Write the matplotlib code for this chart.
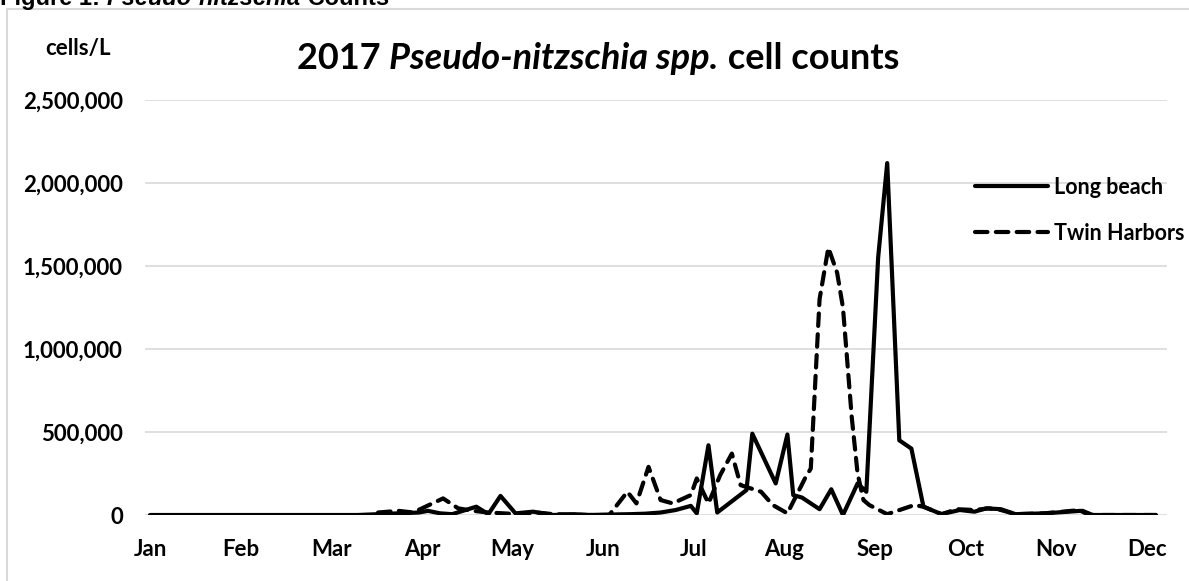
import calendar
import matplotlib
matplotlib.use("Agg")
import matplotlib.pyplot as plt
from matplotlib.ticker import FuncFormatter
from matplotlib.lines import Line2D

plt.rcParams['font.family'] = ['Lato', 'DejaVu Sans']
plt.rcParams['font.weight'] = 'bold'

# Data (2017, sample date as MM-DD)
months = ['Jan', 'Feb', 'Mar', 'Apr', 'May', 'Jun',
          'Jul', 'Aug', 'Sep', 'Oct', 'Nov', 'Dec']

lb_dates = ['01-01', '01-15', '02-01', '02-15', '03-01', '03-10', '03-17', '03-24',
            '03-31', '04-03', '04-07', '04-11', '04-19', '04-23', '04-27', '05-02',
            '05-08', '05-15', '05-22', '05-27', '06-04', '06-10', '06-15', '06-20',
            '06-25', '06-30', '07-02', '07-06', '07-09', '07-19', '07-21', '07-29',
            '08-02', '08-04', '08-07', '08-13', '08-17', '08-21', '08-26', '08-29',
            '09-02', '09-05', '09-09', '09-13', '09-17', '09-23', '09-29', '10-04',
            '10-08', '10-13', '10-18', '10-28', '11-09', '11-12', '11-22', '12-04']
lb_cells = [0, 0, 0, 0, 0, 0, 5000, 10000,
            15000, 25000, 10000, 5000, 50000, 5000, 115000, 10000,
            20000, 0, 5000, 0, 3000, 5000, 8000, 15000,
            30000, 55000, 10000, 420000, 15000, 150000, 490000, 190000,
            485000, 120000, 105000, 35000, 155000, 0, 190000, 140000,
            1550000, 2120000, 450000, 400000, 50000, 5000, 30000, 20000,
            40000, 35000, 5000, 10000, 25000, 0, 0, 0]

th_dates = ['03-17', '03-24', '03-29', '04-08', '04-13', '04-18', '04-23', '05-03',
            '05-09', '05-15', '05-27', '06-03', '06-09', '06-12', '06-16', '06-20',
            '06-24', '06-30', '07-02', '07-06', '07-10', '07-14', '07-17', '07-24',
            '07-28', '08-02', '08-08', '08-10', '08-13', '08-16', '08-19', '08-21',
            '08-24', '08-26', '08-28', '08-30', '09-05', '09-14', '09-17', '09-23',
            '09-28', '10-04', '10-09', '10-13', '10-18', '10-28', '11-09', '11-13',
            '12-04']
th_cells = [15000, 25000, 15000, 100000, 40000, 25000, 15000, 5000,
            15000, 5000, 0, 0, 140000, 70000, 290000, 90000,
            70000, 120000, 220000, 70000, 240000, 370000, 180000, 140000,
            60000, 10000, 220000, 280000, 1300000, 1610000, 1460000, 1250000,
            590000, 250000, 90000, 60000, 5000, 60000, 50000, 5000,
            35000, 30000, 40000, 30000, 5000, 10000, 30000, 0,
            0]


def month_pos(d):
    m, day = map(int, d.split('-'))
    return (m - 1) + (day - 1) / calendar.monthrange(2017, m)[1]


W, H = 1189, 581
fig = plt.figure(figsize=(W / 100, H / 100), dpi=100)
ax = fig.add_axes([145 / W, 1 - 515 / H, (1167 - 145) / W, (515 - 100) / H])

lb_x = [month_pos(d) for d in lb_dates]
th_x = [month_pos(d) for d in th_dates]

ax.plot(th_x, th_cells, color='black', lw=3, ls=(0, (3, 2)),
        dash_capstyle='round', solid_joinstyle='round', label='Twin Harbors', zorder=3)
ax.plot(lb_x, lb_cells, color='black', lw=3, solid_capstyle='round',
        solid_joinstyle='round', label='Long beach', zorder=4)

ax.set_xlim((145 - 150) / 90.64, (1167 - 150) / 90.64)
ax.set_ylim(0, 2500000)
ax.set_xticks(range(12), months)
ax.set_yticks(range(0, 2500001, 500000))
ax.yaxis.set_major_formatter(FuncFormatter(lambda v, p: f'{int(v):,}'))
ax.grid(axis='y', color='#d9d9d9', lw=1.2)
ax.set_axisbelow(True)
for s in ax.spines.values():
    s.set_visible(False)
ax.tick_params(length=0, labelsize=16)
ax.tick_params(axis='y', pad=16)
ax.tick_params(axis='x', pad=17)

handles = [Line2D([], [], color='black', lw=3, solid_capstyle='round'),
           Line2D([], [], color='black', lw=3, ls=(0, (3, 2)), dash_capstyle='round')]
fig.legend(handles, ['Long beach', 'Twin Harbors'], loc='upper left',
           bbox_to_anchor=(975 / W, 1 - 177 / H), frameon=False, fontsize=15.5,
           handlelength=3.4, handletextpad=0.25, labelspacing=1.15, borderpad=0,
           borderaxespad=0)

fig.text(45 / W, 1 - 48 / H, 'cells/L', fontsize=16, ha='left', va='center')

# title in three pieces (plain / italic / plain)
parts = [('2017 ', 'normal'), ('Pseudo-nitzschia spp.', 'italic'), (' cell counts', 'normal')]
texts = [fig.text(0, 1 - 69 / H, t, fontsize=26, style=st, ha='left', va='baseline')
         for t, st in parts]
fig.canvas.draw()
r = fig.canvas.get_renderer()
widths = [t.get_window_extent(r).width for t in texts]
x0 = 598 - sum(widths) / 2
for t, w in zip(texts, widths):
    t.set_x(x0 / W)
    x0 += w

# figure caption, cut off at the top edge
cap = [('Figure 1: ', 'normal'), ('Pseudo-nitzschia', 'italic'), (' Counts', 'normal')]
ctexts = [fig.text(0, 1 - 5 / H, t, fontsize=17, style=st, ha='left', va='baseline',
                   family='Liberation Sans') for t, st in cap]
fig.canvas.draw()
x0 = 0
for t in ctexts:
    t.set_x(x0 / W)
    x0 += t.get_window_extent(r).width

# light chart border
fig.add_artist(plt.Rectangle((7 / W, -0.1), 1.2, 1 - 9 / H + 0.1, transform=fig.transFigure,
                             fill=False, edgecolor='#d9d9d9', lw=1.5))

fig.savefig('out.png', dpi=100)
